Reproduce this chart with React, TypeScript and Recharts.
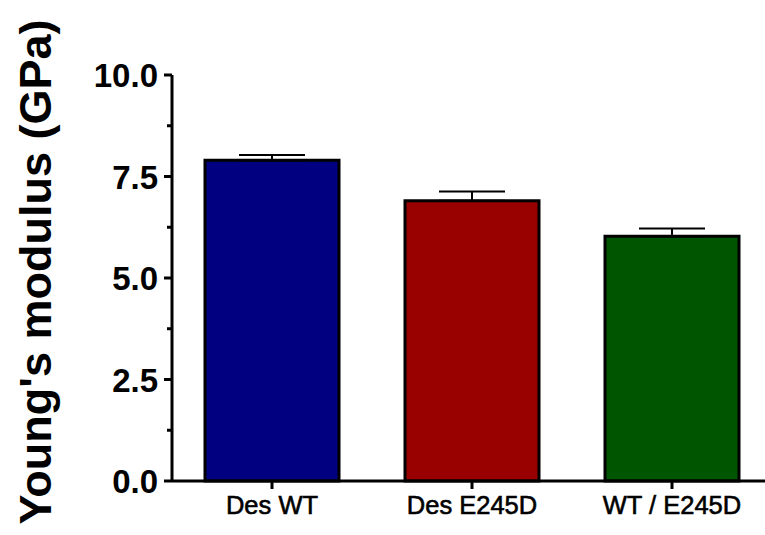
import React from 'react';
import { BarChart, Bar, XAxis, YAxis, ErrorBar, Cell, Customized } from 'recharts';

const groups = ['Des WT', 'Des E245D', 'WT / E245D'];
const modulus = [7.9, 6.9, 6.03];
const sem = [0.13, 0.23, 0.19];
const barColors = ['#000080', '#990000', '#005500'];
const yTicks = [0, 1.25, 2.5, 3.75, 5, 6.25, 7.5, 8.75, 10];
const yLabel = "Young's modulus (GPa)";

const data = groups.map((g, i) => ({ group: g, value: modulus[i], err: [0, sem[i]] }));

const FONT = '"Liberation Sans", Arial, sans-serif';

// major ticks get a label, minor ones only a short line
const YTick = (props: any) => {
  const { x, y, payload } = props;
  const v = payload.value as number;
  const major = v % 2.5 === 0;
  return (
    <g>
      <line x1={x - (major ? 8 : 5)} x2={x} y1={y} y2={y} stroke="#000" strokeWidth={3} />
      {major && (
        <text x={x - 14} y={y + 12} textAnchor="end" fontFamily={FONT} fontWeight="bold" fontSize={33} fill="#000">
          {v.toFixed(1)}
        </text>
      )}
    </g>
  );
};

const XTick = (props: any) => {
  const { x, y, payload } = props;
  return (
    <g>
      <line x1={x} x2={x} y1={y} y2={y + 8} stroke="#000" strokeWidth={3} />
      <text x={x} y={y + 33} textAnchor="middle" fontFamily={FONT} fontSize={25.5} fill="#000" stroke="#000" strokeWidth={0.6}>
        {payload.value}
      </text>
    </g>
  );
};

const AxisTitle = () => (
  <text
    x={51}
    y={272}
    transform="rotate(-90 51 272)"
    textAnchor="middle"
    fontFamily={FONT}
    fontWeight="bold"
    fontSize={45}
    fill="#000"
  >
    {yLabel}
  </text>
);

export default function App() {
  return (
    <div style={{ position: 'absolute', left: 0, top: 0, width: 765, height: 535, overflow: 'hidden', background: '#fff' }}>
      <BarChart width={772} height={535} data={data} margin={{ top: 75, right: 0, bottom: 53, left: 0 }}>
        <XAxis
          dataKey="group"
          height={1}
          axisLine={{ stroke: '#000', strokeWidth: 3 }}
          tickLine={false}
          tickSize={0}
          tickMargin={0}
          tick={<XTick />}
          interval={0}
        />
        <YAxis
          type="number"
          domain={[0, 10]}
          ticks={yTicks}
          width={172}
          axisLine={{ stroke: '#000', strokeWidth: 3 }}
          tickLine={false}
          tickSize={0}
          tickMargin={0}
          tick={<YTick />}
          interval={0}
        />
        <Bar dataKey="value" barSize={134} stroke="#000" strokeWidth={3} isAnimationActive={false}>
          {data.map((d, i) => (
            <Cell key={d.group} fill={barColors[i]} />
          ))}
          <ErrorBar dataKey="err" width={33} stroke="#000" strokeWidth={2} direction="y" />
        </Bar>
        <Customized component={AxisTitle} />
      </BarChart>
    </div>
  );
}
